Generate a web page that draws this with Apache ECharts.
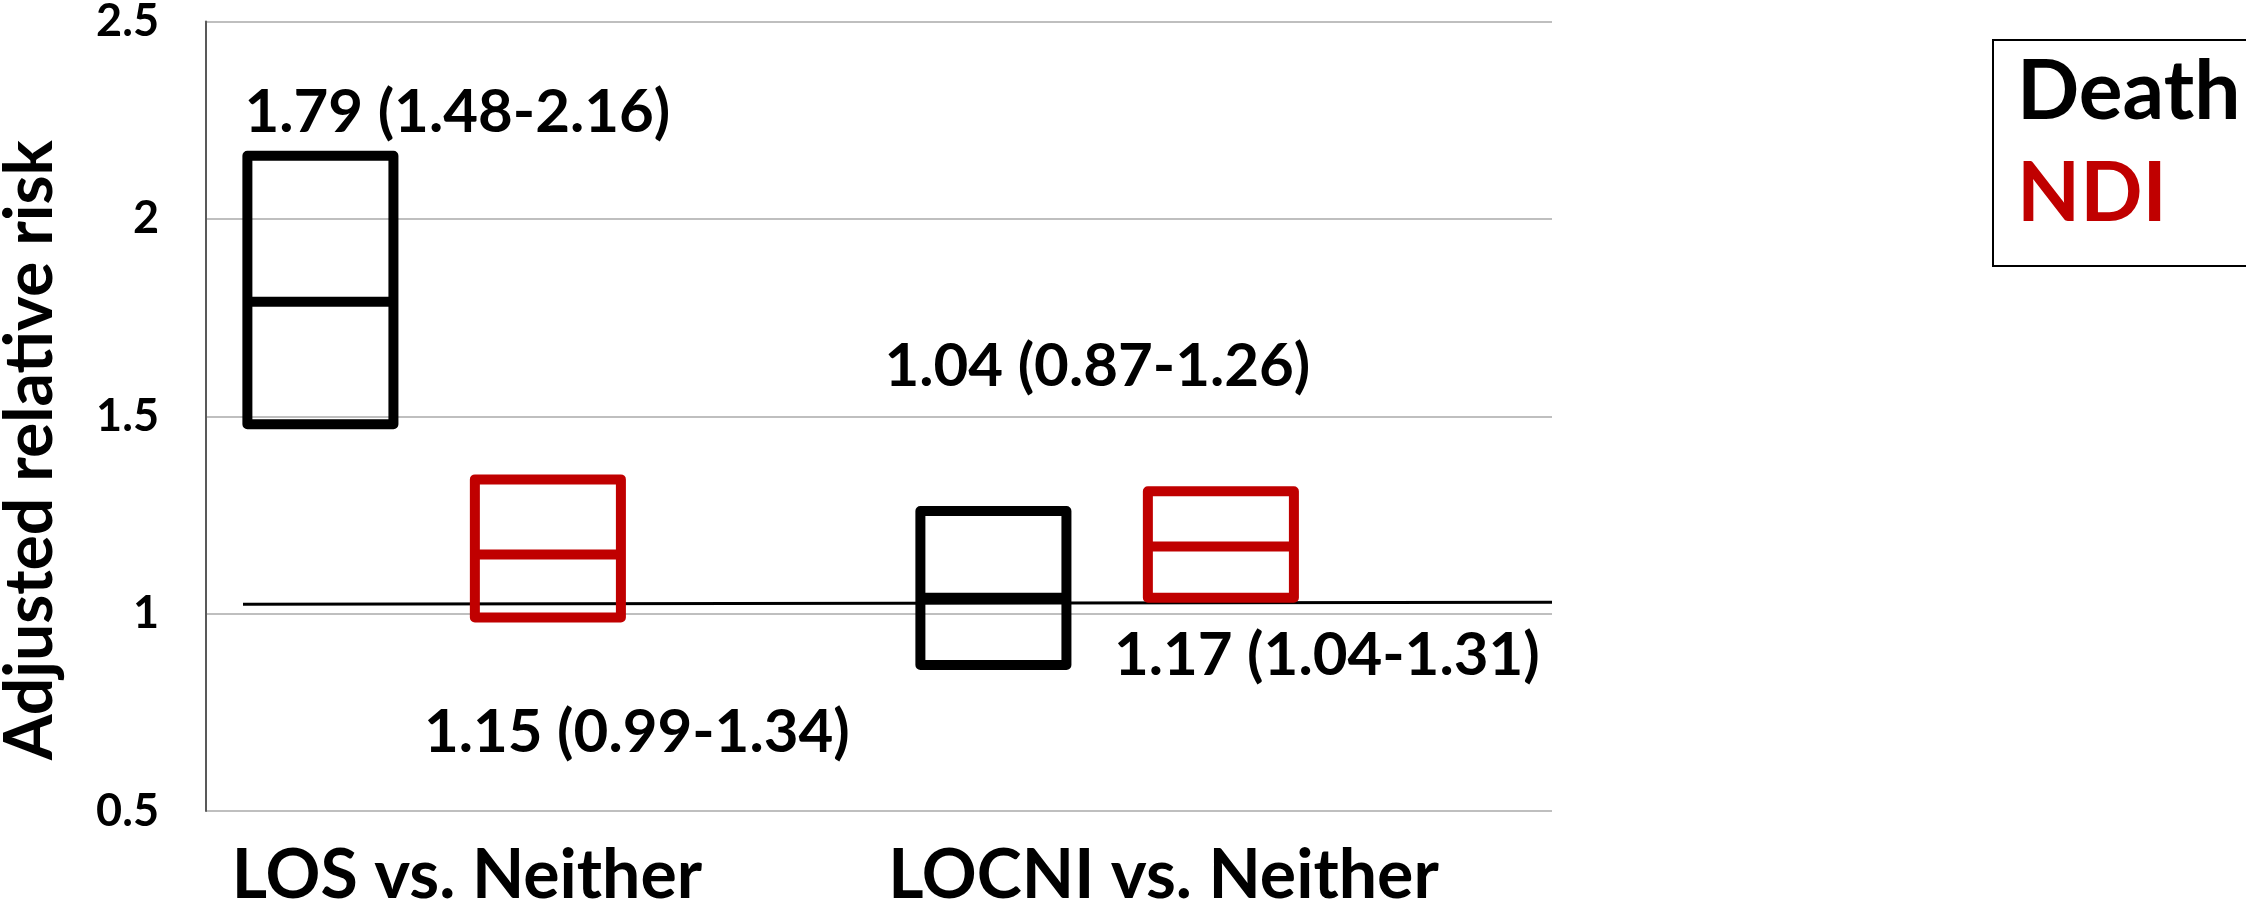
<!DOCTYPE html>
<html>
<head>
<meta charset="utf-8">
<script src="https://cdn.jsdelivr.net/npm/echarts@6/dist/echarts.min.js"></script>
<style>
  html, body { margin: 0; padding: 0; background: #fff; }
  #chart { width: 2246px; height: 903px; }
</style>
</head>
<body>
<div id="chart"></div>
<script>
// Comparison groups on the x axis
const categories = ['LOS vs. Neither', 'LOCNI vs. Neither'];

// Adjusted relative risk with 95% CI, per outcome
const deathMedian = [1.79, 1.04];
const deathLow    = [1.48, 0.87];
const deathHigh   = [2.16, 1.26];

const ndiMedian = [1.15, 1.17];
const ndiLow    = [0.99, 1.04];
const ndiHigh   = [1.34, 1.31];

// Reference line near RR = 1 (value at its start and end)
const refLineValues = [1.024, 1.029];

// Y axis ticks
const yTicks = [0.5, 1, 1.5, 2, 2.5];

// ---- layout / styling ----
const FONT = 'Lato, "Open Sans", sans-serif';
const RED = '#c00000';
const BOX_WIDTH = 0.217;               // fraction of the category band
const SERIES_SHIFT = { Death: -0.33, NDI: 0.008 };
// label placement: [dx from box centre, dy from anchor value, anchor]
const LABEL_POS = {
  Death: [[-76, -43, 'high'], [-109, -144, 'high']],
  NDI:   [[-124, 115, 'low'], [-107, 58, 'low']]
};
const REF_LINE_START = 0.0275;         // fraction of the plot width

function buildData(low, med, high) {
  return categories.map((c, i) => [i, low[i], med[i], high[i]]);
}

function boxRenderer(name, color) {
  return function (params, api) {
    const idx = api.value(0);
    const lo = api.value(1), med = api.value(2), hi = api.value(3);
    const band = api.size([1, 0])[0];
    const cx = api.coord([idx, med])[0] + SERIES_SHIFT[name] * band;
    const w = BOX_WIDTH * band;
    const yLo = api.coord([idx, lo])[1];
    const yMed = api.coord([idx, med])[1];
    const yHi = api.coord([idx, hi])[1];
    const pos = LABEL_POS[name][params.dataIndex];
    const anchorY = pos[2] === 'high' ? yHi : yLo;
    const text = med.toFixed(2) + ' (' + lo.toFixed(2) + '-' + hi.toFixed(2) + ')';
    return {
      type: 'group',
      children: [
        {
          type: 'rect',
          shape: { x: cx - w / 2, y: yHi, width: w, height: yLo - yHi },
          style: { fill: 'none', stroke: color, lineWidth: 10, lineJoin: 'round' }
        },
        {
          type: 'line',
          shape: { x1: cx - w / 2, y1: yMed, x2: cx + w / 2, y2: yMed },
          style: { stroke: color, lineWidth: 10 }
        },
        {
          type: 'text',
          style: {
            text: text,
            x: cx + pos[0],
            y: anchorY + pos[1],
            fill: '#000',
            fontSize: 60,
            fontWeight: 'bold',
            fontFamily: FONT,
            align: 'left',
            verticalAlign: 'middle'
          }
        }
      ]
    };
  };
}

const chart = echarts.init(document.getElementById('chart'), null, { renderer: 'canvas' });

chart.setOption({
  animation: false,
  backgroundColor: '#fff',
  grid: { left: 206, right: 694, top: 21.5, bottom: 92, containLabel: false, outerBoundsMode: 'none' },
  legend: {
    orient: 'vertical',
    left: 1993,
    top: 40,
    padding: [2, 400, 20, 19],
    borderColor: '#000',
    borderWidth: 2,
    itemWidth: 0,
    itemHeight: 0,
    itemGap: 0,
    selectedMode: false,
    textStyle: { fontSize: 82, fontWeight: 'bold', fontFamily: FONT, lineHeight: 102 },
    data: [
      { name: 'Death', icon: 'none', textStyle: { color: '#000' } },
      { name: 'NDI', icon: 'none', textStyle: { color: RED } }
    ]
  },
  xAxis: [
    {
      type: 'category',
      data: categories,
      axisLine: { show: false },
      axisTick: { show: false },
      splitLine: { show: false },
      axisLabel: {
        margin: 31,
        formatter: (v, i) => '{c' + i + '|' + v + '}',
        rich: {
          c0: { fontSize: 68, fontWeight: 'bold', fontFamily: FONT, color: '#000', padding: [0, 151, 0, 0] },
          c1: { fontSize: 68, fontWeight: 'bold', fontFamily: FONT, color: '#000', padding: [0, 104, 0, 0] }
        }
      }
    },
    { type: 'value', min: 0, max: 1, show: false }
  ],
  yAxis: {
    type: 'value',
    min: yTicks[0],
    max: yTicks[yTicks.length - 1],
    interval: 0.5,
    name: 'Adjusted relative risk',
    nameLocation: 'middle',
    nameGap: 142,
    nameTextStyle: { fontSize: 66, fontWeight: 'bold', fontFamily: FONT, color: '#000', padding: [0, 68, 0, 0] },
    axisLine: { show: true, lineStyle: { color: '#595959', width: 2 } },
    axisTick: { show: false },
    axisLabel: { margin: 47, fontSize: 45, fontWeight: 'bold', fontFamily: FONT, color: '#000' },
    splitLine: { show: true, lineStyle: { color: '#bfbfbf', width: 2 } }
  },
  series: [
    {
      name: 'Death',
      type: 'custom',
      xAxisIndex: 0,
      renderItem: boxRenderer('Death', '#000'),
      encode: { x: 0, y: [1, 2, 3] },
      itemStyle: { color: '#000' },
      data: buildData(deathLow, deathMedian, deathHigh),
      z: 3
    },
    {
      name: 'NDI',
      type: 'custom',
      xAxisIndex: 0,
      renderItem: boxRenderer('NDI', RED),
      encode: { x: 0, y: [1, 2, 3] },
      itemStyle: { color: RED },
      data: buildData(ndiLow, ndiMedian, ndiHigh),
      z: 3
    },
    {
      name: 'ref',
      type: 'line',
      xAxisIndex: 1,
      symbol: 'none',
      silent: true,
      lineStyle: { color: '#000', width: 3 },
      data: [[REF_LINE_START, refLineValues[0]], [1, refLineValues[1]]],
      z: 2
    }
  ]
});
</script>
</body>
</html>
